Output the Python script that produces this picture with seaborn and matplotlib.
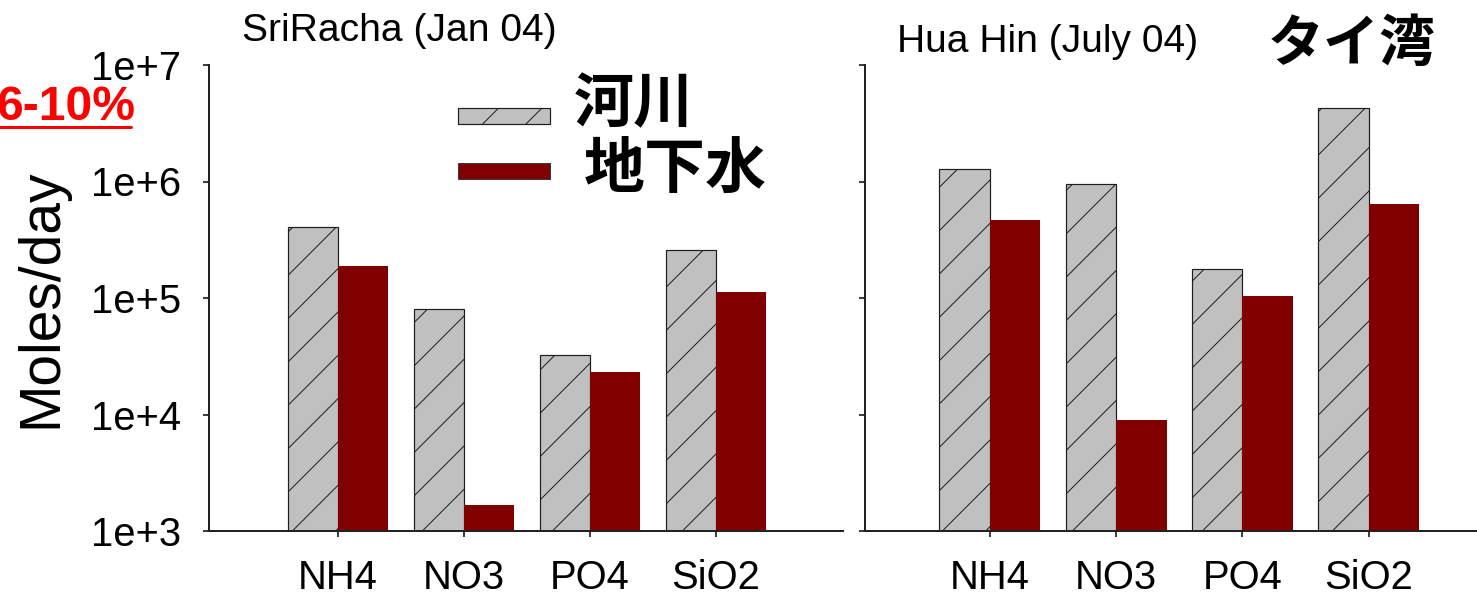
import numpy as np
import pandas as pd
import matplotlib
matplotlib.use("Agg")
import matplotlib.pyplot as plt
import seaborn as sns
from matplotlib.patches import Rectangle
from matplotlib.lines import Line2D
from matplotlib.ticker import NullLocator, FixedLocator
from matplotlib.colors import to_rgb

# ---- data -------------------------------------------------------------
nutrients = ["NH4", "NO3", "PO4", "SiO2"]
sources = ["河川", "地下水"]

sriracha_river = [4.1e5, 8.0e4, 3.25e4, 2.6e5]
sriracha_ground = [1.9e5, 1.67e3, 2.3e4, 1.12e5]
huahin_river = [1.28e6, 9.5e5, 1.77e5, 4.27e6]
huahin_ground = [4.7e5, 9.0e3, 1.04e5, 6.4e5]

site_titles = ["SriRacha (Jan 04)", "Hua Hin (July 04)"]
ytick_values = [1e3, 1e4, 1e5, 1e6, 1e7]
ytick_labels = ["1e+3", "1e+4", "1e+5", "1e+6", "1e+7"]
y_label = "Moles/day"
region_label = "タイ湾"
share_label = "6-10%"

river_color = "#c0c0c0"
ground_color = "#800000"
hatch_edge = "#1e1e1e"
palette = {sources[0]: river_color, sources[1]: ground_color}

# ---- figure setup -----------------------------------------------------
DPI = 130
W, H = 1477, 603


def pt(px):
    """Convert a size in pixels to points at the figure dpi."""
    return px * 72.0 / DPI


sns.set_style("ticks")
plt.rcParams["font.family"] = ["Liberation Sans", "Noto Sans CJK JP", "DejaVu Sans"]
plt.rcParams["text.color"] = "black"
plt.rcParams["axes.labelcolor"] = "black"
plt.rcParams["xtick.color"] = "black"
plt.rcParams["ytick.color"] = "black"
plt.rcParams["hatch.linewidth"] = pt(1.0)
plt.rcParams["axes.linewidth"] = pt(2)

fig = plt.figure(figsize=(W / DPI, H / DPI), dpi=DPI)
fig.patch.set_facecolor("white")

ax_top, ax_bot = 65, 531
ax1 = fig.add_axes([209 / W, 1 - ax_bot / H, (843 - 209) / W, (ax_bot - ax_top) / H])
ax2 = fig.add_axes([865 / W, 1 - ax_bot / H, (1476 - 865) / W, (ax_bot - ax_top) / H])

panels = [
    (ax1, sriracha_river, sriracha_ground, (-1.024, 4.008), 0.052, 1.0515),
    (ax2, huahin_river, huahin_ground, (-0.99, 3.85), 0.052, 1.028),
]

for i, (ax, river, ground, xlim, tx, ty) in enumerate(panels):
    df = pd.DataFrame({
        "nutrient": nutrients * 2,
        "source": [sources[0]] * 4 + [sources[1]] * 4,
        "value": list(river) + list(ground),
    })
    sns.barplot(data=df, x="nutrient", y="value", hue="source",
                order=nutrients, hue_order=sources, palette=palette,
                saturation=1, errorbar=None, legend=False, width=0.8,
                ax=ax)
    ax.set_yscale("log")

    for p in ax.patches:
        fc = p.get_facecolor()[:3]
        if np.allclose(fc, to_rgb(river_color), atol=0.02):
            p.set_hatch("/")
            p.set_edgecolor(hatch_edge)
            p.set_linewidth(pt(1.2))
        else:
            p.set_edgecolor(ground_color)
            p.set_linewidth(0)

    ax.set_ylim(1e3, 1e7)
    ax.set_xlim(*xlim)
    ax.yaxis.set_major_locator(FixedLocator(ytick_values))
    ax.yaxis.set_minor_locator(NullLocator())
    if i == 0:
        ax.set_yticklabels(ytick_labels)
        ax.set_ylabel(y_label, fontsize=pt(57), va="center")
        ax.yaxis.set_label_coords((41 - 209) / 634, 0.5)
    else:
        ax.set_yticklabels([])
        ax.set_ylabel("")
    ax.set_xlabel("")
    ax.tick_params(axis="both", direction="out", length=pt(6), width=pt(1.5),
                   pad=pt(22), labelsize=pt(40), colors="black")
    for s in ("top", "right"):
        ax.spines[s].set_visible(False)
    for s in ("left", "bottom"):
        ax.spines[s].set_color("#222222")
    ax.text(tx, ty, site_titles[i], transform=ax.transAxes, ha="left",
            va="baseline", fontsize=pt(39))

# ---- legend (drawn in figure coordinates) ----------------------------
def fig_rect(x0, y0, x1, y1, **kw):
    r = Rectangle((x0 / W, 1 - y1 / H), (x1 - x0) / W, (y1 - y0) / H,
                  transform=fig.transFigure, **kw)
    fig.add_artist(r)


fig_rect(458, 108, 550, 124, facecolor=river_color, edgecolor=hatch_edge,
         hatch="/", linewidth=pt(1.2))
fig_rect(458, 163, 550, 179, facecolor=ground_color, edgecolor="#3a3a3a",
         linewidth=pt(1))
fig.text(574 / W, 1 - 107 / H, sources[0], ha="left", va="center",
         fontsize=pt(60), fontweight="bold")
fig.text(584 / W, 1 - 172 / H, sources[1], ha="left", va="center",
         fontsize=pt(61), fontweight="bold")

# ---- annotations ------------------------------------------------------
fig.text(1268 / W, 1 - 47 / H, region_label, ha="left", va="center",
         fontsize=pt(56), fontweight="bold")
fig.text(-4 / W, 1 - 108 / H, share_label, ha="left", va="center",
         fontsize=pt(48), fontweight="bold", color="#ff0000")
fig.add_artist(Line2D([0, 131 / W], [1 - 127 / H, 1 - 127 / H],
                      transform=fig.transFigure, color="#ff0000",
                      linewidth=pt(3)))

fig.savefig("out.png", dpi=DPI, facecolor="white")
